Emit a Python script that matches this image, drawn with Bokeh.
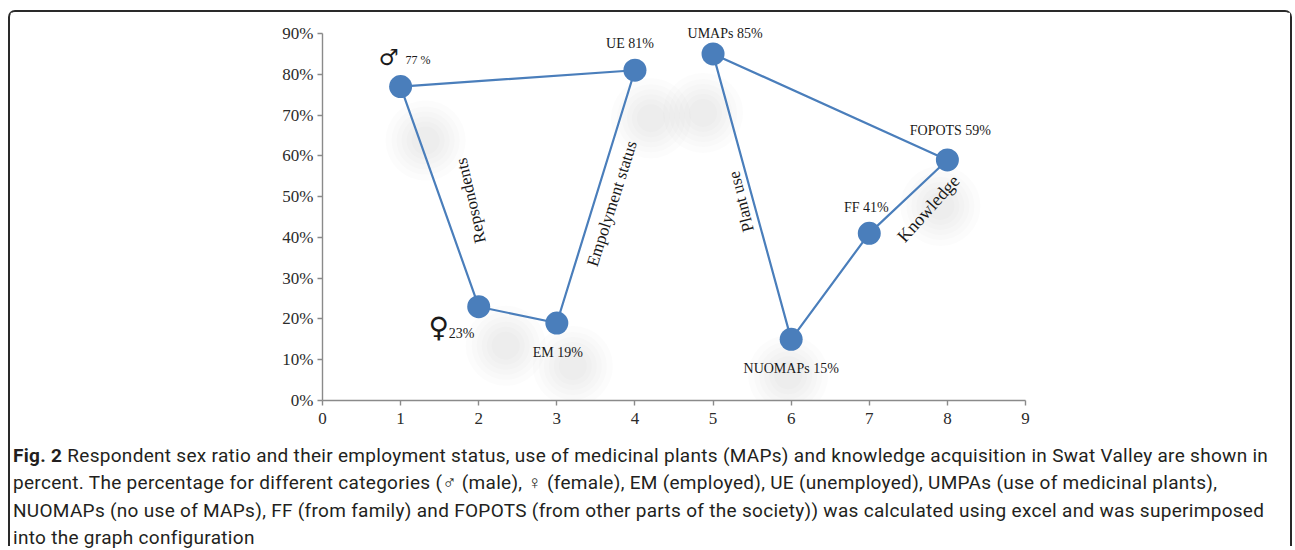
from bokeh.plotting import figure
from bokeh.layouts import column
from bokeh.models import (ColumnDataSource, Div, FixedTicker,
                          PrintfTickFormatter, Range1d)
from bokeh.core.properties import value
from bokeh.embed import file_html
from bokeh.resources import INLINE

# ---------------- data ----------------
x_sex_emp = [1, 2, 3, 4]            # ♂, ♀, EM, UE
pct_sex_emp = [77, 23, 19, 81]
x_use_know = [5, 6, 7, 8]           # UMAPs, NUOMAPs, FF, FOPOTS
pct_use_know = [85, 15, 41, 59]
point_names = ["", "", "EM", "UE", "UMAPs", "NUOMAPs", "FF", "FOPOTS"]
group_names = ["Repsondents", "Empolyment status", "Plant use", "Knowledge"]
y_ticks = [0, 10, 20, 30, 40, 50, 60, 70, 80, 90]
x_ticks = [0, 1, 2, 3, 4, 5, 6, 7, 8, 9]
caption_bold = "Fig. 2"
caption_lines = [
    "Respondent sex ratio and their employment status, use of medicinal plants (MAPs) and knowledge acquisition in Swat Valley are shown in",
    "percent. The percentage for different categories (\u2642 (male), \u2640 (female), EM (employed), UE (unemployed), UMPAs (use of medicinal plants),",
    "NUOMAPs (no use of MAPs), FF (from family) and FOPOTS (from other parts of the society)) was calculated using excel and was superimposed",
    "into the graph configuration",
]

W, H1, H2 = 1280, 418, 116
BLUE = "#4A7EBB"
SERIF = "Liberation Serif"
PX_PER_X = 703 / 9.0
PX_PER_PCT = 400 / 98.1
Y_TOP = 388 / PX_PER_PCT

p = figure(width=W, height=H1, output_backend="svg", toolbar_location=None,
           x_range=Range1d(0, 9), y_range=Range1d(0, Y_TOP),
           min_border_left=312, min_border_right=265,
           min_border_top=0, min_border_bottom=30)
p.outline_line_color = None
p.grid.visible = False
p.background_fill_color = "white"
p.border_fill_color = "white"

for ax in (p.xaxis[0], p.yaxis[0]):
    ax.axis_line_color = "#8a8a8a"
    ax.axis_line_width = 1.4
    ax.major_tick_line_color = "#8a8a8a"
    ax.major_tick_line_width = 1.4
    ax.major_tick_out = 5
    ax.major_tick_in = 0
    ax.minor_tick_line_color = None
    ax.major_label_text_font = SERIF
    ax.major_label_text_font_size = "17px"
    ax.major_label_text_color = "#2b2b2b"
p.yaxis.ticker = FixedTicker(ticks=y_ticks)
p.xaxis.ticker = FixedTicker(ticks=x_ticks)
p.yaxis.bounds = (0, 90)
p.yaxis.formatter = PrintfTickFormatter(format="%d%%")
p.yaxis.major_label_standoff = 4
p.xaxis.major_label_standoff = 7

all_x = x_sex_emp + x_use_know
all_y = pct_sex_emp + pct_use_know

# soft grey text shadows (decoration), offsets in px from points
sh_idx = [0, 1, 2, 3, 4, 5, 7]
sh_dx = [25, 27, 16, 16, -10, -3, -7]
sh_dy = [54, 39, 43, 48, 59, 36, 46]
shx = [all_x[i] + dx / PX_PER_X for i, dx in zip(sh_idx, sh_dx)]
shy = [all_y[i] - dy / PX_PER_PCT for i, dy in zip(sh_idx, sh_dy)]
for s in (80, 68, 58, 48, 38, 28):
    p.scatter(shx, shy, size=s, fill_color="#707070", fill_alpha=0.025, line_color=None)

# closed polygons
for xs, ys in ((x_sex_emp, pct_sex_emp), (x_use_know, pct_use_know)):
    p.line(xs + xs[:1], ys + ys[:1], line_color=BLUE, line_width=2.2)
    p.scatter(xs, ys, size=23, fill_color=BLUE, line_color=BLUE, line_width=0)

# point labels
txt = [(n + " " if n else "") + f"{v}%" for n, v in zip(point_names, all_y)]
txt[0] = f"{all_y[0]} %"
lab_dx = [5, -30, 1, -5, 12, 0, -3, 3]
lab_dy = [-27, 27, 29, -27, -20, 29, -26, -29]
align = ["left", "left", "center", "center", "center", "center", "center", "center"]
size = ["12px", "14px", "14px", "14px", "14px", "14px", "14px", "14px"]
src = ColumnDataSource(dict(x=all_x, y=all_y, t=txt, dx=lab_dx, dy=lab_dy, a=align, s=size))
p.text(x="x", y="y", text="t", x_offset="dx", y_offset="dy", text_align="a",
       text_baseline="middle", text_font=value(SERIF), text_font_size="s",
       text_color="#1a1a1a", source=src)

# sex symbols
ssrc = ColumnDataSource(dict(x=all_x[:2], y=all_y[:2], t=["\u2642", "\u2640"],
                             dx=[-12, -40], dy=[-29, 21], s=["22px", "28px"]))
p.text(x="x", y="y", text="t", x_offset="dx", y_offset="dy", text_align="center",
       text_baseline="middle", text_font=value("DejaVu Sans"), text_font_size="s",
       text_color="#1a1a1a", source=ssrc)

# group labels along the edges (midpoints of segments)
seg_pairs = [(0, 1), (2, 3), (4, 5), (6, 7)]
gx = [(all_x[i] + all_x[j]) / 2 for i, j in seg_pairs]
gy = [(all_y[i] + all_y[j]) / 2 for i, j in seg_pairs]
g_dx = [31, 16, -11, 20]
g_dy = [4, 7, 5, 12]
g_ang = [1.80, 1.26, 1.82, 0.84]
g_size = ["17px", "17px", "17px", "18px"]
gsrc = ColumnDataSource(dict(x=gx, y=gy, t=group_names, dx=g_dx, dy=g_dy, ang=g_ang, s=g_size))
p.text(x="x", y="y", text="t", x_offset="dx", y_offset="dy", angle="ang",
       text_align="center", text_baseline="middle", text_font=value(SERIF),
       text_font_size="s", text_color="#1a1a1a", source=gsrc)

# caption
cap_html = ('<div style="font-family:Roboto,sans-serif;font-size:19px;letter-spacing:0.3px;'
            'line-height:27.3px;color:#231f20;white-space:nowrap;margin:0;'
            'padding:12px 0 0 3px;">'
            + "<b>" + caption_bold + "</b> " + "<br>".join(caption_lines) + "</div>")
cap = Div(text=cap_html, width=W, height=H2, styles={"margin": "0", "padding": "0"})

frame_css = "2px solid #2a2a2a"
layout = column(p, cap, spacing=0,
                styles={"margin-left": "8px", "margin-top": "10px",
                        "border-top": frame_css, "border-left": frame_css,
                        "border-right": frame_css,
                        "border-radius": "7px 7px 0 0"})

open("out.html", "w").write(file_html(layout, INLINE))
